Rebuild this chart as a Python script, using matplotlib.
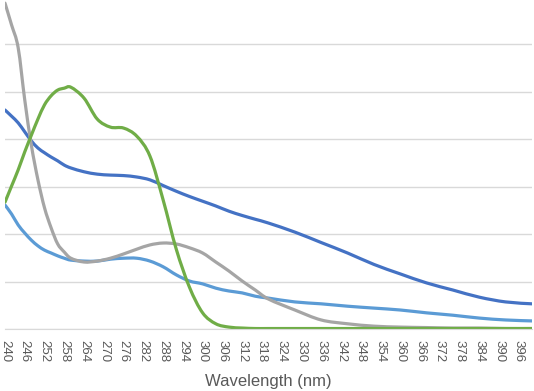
import matplotlib.pyplot as plt
from matplotlib.path import Path
from matplotlib.patches import PathPatch
import numpy as np

# wavelength samples (nm)
wavelength = [240, 242, 244, 246, 248, 250, 252, 254, 256, 258, 260,
              264, 268, 272, 276, 280, 284, 288, 292, 296, 300, 304,
              308, 312, 316, 320, 328, 336, 344, 352, 360, 368, 376,
              384, 392, 400]

dark_blue = [4.61, 4.48, 4.34, 4.15, 3.96, 3.81, 3.71, 3.62, 3.54, 3.45, 3.39,
             3.31, 3.26, 3.24, 3.23, 3.20, 3.14, 3.02, 2.90, 2.79, 2.69, 2.59,
             2.48, 2.39, 2.31, 2.23, 2.04, 1.82, 1.60, 1.36, 1.16, 0.97, 0.82,
             0.67, 0.57, 0.53]

light_blue = [2.61, 2.42, 2.19, 2.02, 1.87, 1.75, 1.66, 1.60, 1.54, 1.49, 1.45,
              1.43, 1.43, 1.47, 1.49, 1.49, 1.43, 1.31, 1.14, 1.01, 0.95, 0.86,
              0.80, 0.76, 0.69, 0.65, 0.57, 0.53, 0.48, 0.44, 0.40, 0.34, 0.29,
              0.23, 0.19, 0.17]

gray = [6.86, 6.40, 5.92, 4.82, 3.87, 3.14, 2.55, 2.13, 1.79, 1.62, 1.49,
        1.41, 1.43, 1.49, 1.58, 1.68, 1.77, 1.81, 1.79, 1.71, 1.60, 1.41,
        1.22, 1.01, 0.82, 0.63, 0.40, 0.19, 0.11, 0.06, 0.04, 0.03, 0.02,
        0.02, 0.01, 0.01]

green = [2.67, 3.01, 3.35, 3.73, 4.08, 4.42, 4.72, 4.91, 5.03, 5.07, 5.09,
         4.86, 4.42, 4.25, 4.23, 4.06, 3.64, 2.72, 1.68, 0.88, 0.34, 0.11,
         0.04, 0.02, 0.01, 0.01, 0.01, 0.01, 0.01, 0.01, 0.01, 0.01, 0.01,
         0.01, 0.01, 0.01]

tick_labels = list(range(240, 397, 6))


def smooth_line(ax, x, y, color):
    # excel-style smoothed line: bezier segments through every data point
    p = np.column_stack([x, y]).astype(float)
    verts = [p[0]]
    codes = [Path.MOVETO]
    n = len(p)
    for i in range(n - 1):
        p0 = p[max(i - 1, 0)]
        p1 = p[i]
        p2 = p[i + 1]
        p3 = p[min(i + 2, n - 1)]
        c1 = p1 + (p2 - p0) / 6
        c2 = p2 - (p3 - p1) / 6
        verts += [c1, c2, p2]
        codes += [Path.CURVE4] * 3
    patch = PathPatch(Path(verts, codes), facecolor='none', edgecolor=color,
                      lw=2.3, capstyle='round', joinstyle='round')
    ax.add_patch(patch)


fig = plt.figure(figsize=(5.34, 3.91), dpi=100)
ax = fig.add_axes([5/534, 1 - 329/391, 527/534, 332.5/391])

smooth_line(ax, wavelength, dark_blue, '#4472C4')
smooth_line(ax, wavelength, light_blue, '#5B9BD5')
smooth_line(ax, wavelength, gray, '#A5A5A5')
smooth_line(ax, wavelength, green, '#70AD47')

ax.set_xlim(240, 400)
ax.set_ylim(0, 7)
ax.set_yticks(range(0, 8))
ax.set_yticklabels([])
ax.yaxis.grid(True, color='#D9D9D9', lw=1)
ax.set_axisbelow(True)
ax.tick_params(axis='y', length=0)

ax.set_xticks(tick_labels)
ax.set_xticklabels([str(t) for t in tick_labels], rotation=-90,
                   fontsize=9.5, color='#595959', family='Liberation Sans')
ax.tick_params(axis='x', length=0, pad=8)

for s in ['top', 'left', 'right']:
    ax.spines[s].set_visible(False)
ax.spines['bottom'].set_color('#D9D9D9')

ax.set_xlabel('Wavelength (nm)', fontsize=12, color='#595959',
              family='Liberation Sans', labelpad=8.5)

fig.savefig('out.png', dpi=100)
